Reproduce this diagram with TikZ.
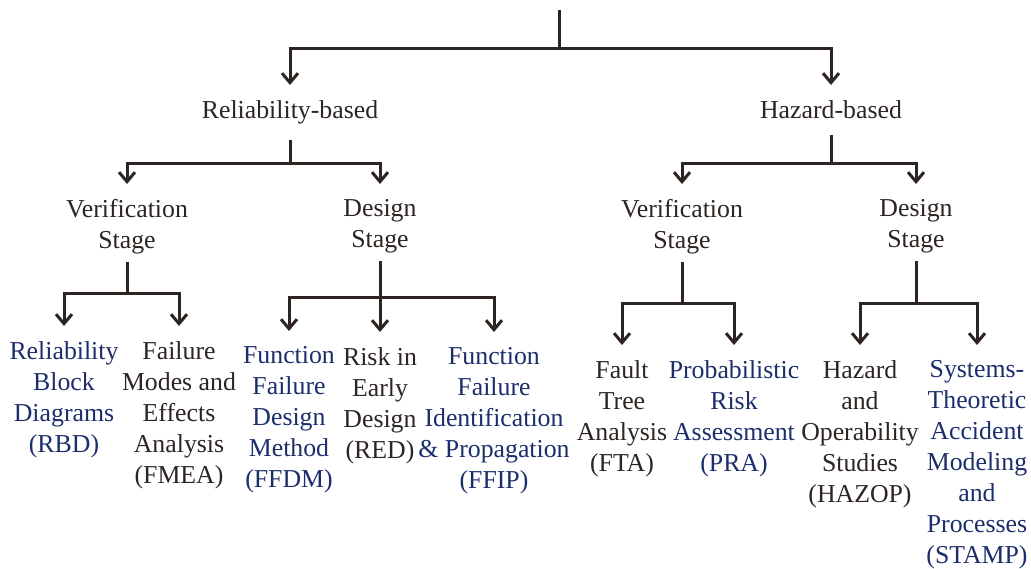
\documentclass[tikz,border=0pt]{standalone}
\usepackage{fontspec}
\setmainfont{Liberation Serif}
\usetikzlibrary{arrows.meta}
\definecolor{ink}{RGB}{44,37,33}
\definecolor{navy}{RGB}{27,46,107}
\tikzset{
  lbl/.style={font=\fontsize{25.8}{31}\selectfont, align=center, inner sep=0pt, anchor=north, text=ink},
  blu/.style={lbl, text=navy},
  wire/.style={draw=ink, line width=3pt},
  arr/.style={wire, -{Straight Barb[length=9.5pt,width=16pt]}, shorten >=15pt},
}
\begin{document}
\begin{tikzpicture}[x=1pt, y=-1pt]
\useasboundingbox (0,0) rectangle (1031,568);

% level 1
\node[lbl] (rel) at (290,100) {Reliability-based};
\node[lbl] (haz) at (831,100) {Hazard-based};

% level 2
\node[lbl] (vrel) at (127,199) {Verification\\Stage};
\node[lbl] (drel) at (380,199) {Design\\Stage};
\node[lbl] (vhaz) at (682,199) {Verification\\Stage};
\node[lbl] (dhaz) at (916,199) {Design\\Stage};

% level 3: methods
\node[blu] (rbd)   at (64,341)  {Reliability\\Block\\Diagrams\\(RBD)};
\node[lbl] (fmea)  at (179,341) {Failure\\Modes and\\Effects\\Analysis\\(FMEA)};
\node[blu] (ffdm)  at (289,346) {Function\\Failure\\Design\\Method\\(FFDM)};
\node[lbl] (red)   at (380,347) {Risk in\\Early\\Design\\(RED)};
\node[blu] (ffip)  at (494,347) {Function\\Failure\\Identification\\\& Propagation\\(FFIP)};
\node[lbl] (fta)   at (622,360) {Fault\\Tree\\Analysis\\(FTA)};
\node[blu] (pra)   at (734,360) {Probabilistic\\Risk\\Assessment\\(PRA)};
\node[lbl] (hazop) at (860,360) {Hazard\\and\\Operability\\Studies\\(HAZOP)};
\node[blu] (stamp) at (977,360) {Systems-\\Theoretic\\Accident\\Modeling\\and\\Processes\\(STAMP)};

% junction points
\coordinate (root) at (559,10);
\coordinate (j0) at (559,48);
\coordinate (jrel) at (290,163);
\coordinate (jhaz) at (831,163);
\coordinate (jvrel) at (127,293);
\coordinate (jdrel) at (380,297);
\coordinate (jvhaz) at (682,303);
\coordinate (jdhaz) at (916,303);

% top split
\draw[wire] (root) -- (j0);
\draw[arr] (j0) -| (rel.north);
\draw[arr] (j0) -| (haz.north);

% reliability-based branch
\draw[wire, shorten <=16pt] (rel.south) -- (jrel);
\draw[arr] (jrel) -| (vrel.north);
\draw[arr] (jrel) -| (drel.north);

% hazard-based branch
\draw[wire, shorten <=16pt] (haz.south) -- (jhaz);
\draw[arr] (jhaz) -| (vhaz.north);
\draw[arr] (jhaz) -| (dhaz.north);

% stage stems and method arrows
\draw[wire, shorten <=8pt] (vrel.south) -- (jvrel);
\draw[arr] (jvrel) -| (rbd.north);
\draw[arr] (jvrel) -| (fmea.north);

\draw[wire, shorten <=8pt] (drel.south) -- (jdrel);
\draw[arr] (jdrel) -| (ffdm.north);
\draw[arr] (jdrel) -- (red.north);
\draw[arr] (jdrel) -| (ffip.north);

\draw[wire, shorten <=8pt] (vhaz.south) -- (jvhaz);
\draw[arr] (jvhaz) -| (fta.north);
\draw[arr] (jvhaz) -| (pra.north);

\draw[wire, shorten <=8pt] (dhaz.south) -- (jdhaz);
\draw[arr] (jdhaz) -| (hazop.north);
\draw[arr] (jdhaz) -| (stamp.north);
\end{tikzpicture}
\end{document}
